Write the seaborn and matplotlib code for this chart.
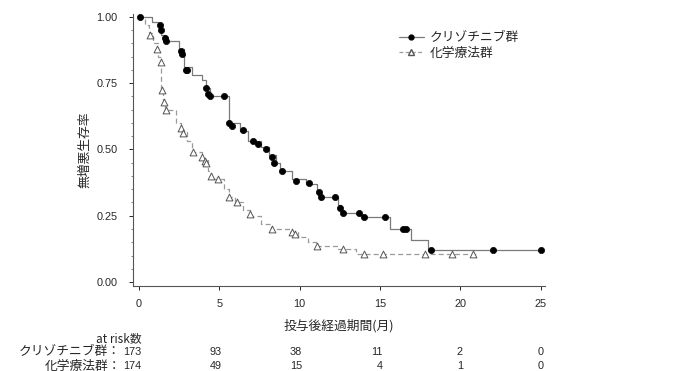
import matplotlib
matplotlib.use("Agg")
import matplotlib.pyplot as plt
import matplotlib.transforms as mtransforms
from matplotlib.lines import Line2D
import pandas as pd
import seaborn as sns

# Kaplan-Meier step curves (time in months, PFS rate)
criz_t = [0, 0.8, 1.2, 1.4, 1.6, 2.5, 2.8, 3.3, 3.9, 4.2, 4.4, 5.6, 6.3, 6.8, 7.6,
          8.1, 8.5, 8.8, 9.5, 10.4, 11.1, 11.2, 12.4, 12.6, 13.8, 15.6, 16.9, 18.0, 25.0]
criz_s = [1.00, 0.98, 0.96, 0.93, 0.91, 0.88, 0.81, 0.78, 0.76, 0.73, 0.70, 0.60, 0.57,
          0.53, 0.51, 0.48, 0.45, 0.42, 0.39, 0.37, 0.34, 0.32, 0.29, 0.26, 0.245, 0.20,
          0.16, 0.12, 0.12]
# censoring marks
criz_ct = [0.05, 1.3, 1.4, 1.6, 1.7, 2.6, 2.7, 2.9, 3.0, 4.2, 4.3, 4.4, 5.3, 5.6, 5.8,
           6.5, 7.1, 7.4, 7.9, 8.3, 8.4, 8.9, 9.8, 10.6, 11.2, 11.3, 12.2, 12.5, 12.7,
           13.7, 14.0, 15.3, 16.4, 16.6, 18.2, 22.0, 25.0]
criz_cs = [1.00, 0.97, 0.95, 0.92, 0.91, 0.87, 0.86, 0.80, 0.80, 0.73, 0.71, 0.70, 0.70,
           0.60, 0.59, 0.575, 0.53, 0.52, 0.50, 0.47, 0.45, 0.42, 0.38, 0.375, 0.34,
           0.32, 0.32, 0.28, 0.26, 0.26, 0.245, 0.245, 0.20, 0.20, 0.12, 0.12, 0.12]

chemo_t = [0, 0.4, 0.6, 0.9, 1.2, 1.4, 1.5, 1.6, 2.3, 2.6, 3.0, 3.3, 3.9, 4.3, 4.5, 5.3,
           5.6, 6.0, 6.5, 6.9, 7.6, 8.2, 9.4, 9.9, 10.5, 11.0, 12.3, 13.5, 21.0]
chemo_s = [1.00, 0.97, 0.94, 0.90, 0.85, 0.73, 0.68, 0.65, 0.60, 0.57, 0.53, 0.49, 0.46,
           0.42, 0.39, 0.35, 0.32, 0.30, 0.27, 0.25, 0.22, 0.20, 0.19, 0.17, 0.15, 0.135,
           0.125, 0.105, 0.105]
chemo_ct = [0.7, 1.1, 1.35, 1.45, 1.55, 1.7, 2.6, 2.75, 3.35, 3.9, 4.1, 4.2, 4.5, 4.9,
            5.6, 6.1, 6.9, 8.3, 9.5, 9.7, 11.1, 12.7, 14.0, 15.2, 17.8, 19.5, 20.8]
chemo_cs = [0.93, 0.88, 0.83, 0.725, 0.68, 0.65, 0.58, 0.56, 0.49, 0.47, 0.455, 0.45,
            0.40, 0.39, 0.32, 0.30, 0.255, 0.20, 0.19, 0.18, 0.135, 0.125, 0.105, 0.105,
            0.105, 0.105, 0.105]

groups = ["クリゾチニブ群", "化学療法群"]
risk_times = [0, 5, 10, 15, 20, 25]
risk_criz = [173, 93, 38, 11, 2, 0]
risk_chemo = [174, 49, 15, 4, 1, 0]

sns.set_theme(style="ticks")
plt.rcParams["font.family"] = ["Liberation Sans Narrow", "Liberation Sans", "Noto Sans CJK JP"]
txt = "#262626"
jp = ["Noto Sans CJK JP", "Liberation Sans"]
fs_num = 7.8
fs_jp = 9.2

fig = plt.figure(figsize=(6.81, 3.71), dpi=100)
ax = fig.add_axes([0.1953, 0.229, 0.6047, 0.733])

criz = pd.DataFrame({"t": criz_t, "s": criz_s})
chemo = pd.DataFrame({"t": chemo_t, "s": chemo_s})
sns.lineplot(data=criz, x="t", y="s", drawstyle="steps-post", color="#7a7a7a",
             lw=0.9, ax=ax, estimator=None)
sns.lineplot(data=chemo, x="t", y="s", drawstyle="steps-post", color="#9a9a9a",
             lw=0.9, ls=(0, (4, 2.5)), ax=ax, estimator=None)
sns.scatterplot(x=criz_ct, y=criz_cs, marker="o", s=20, color="black",
                edgecolor="black", linewidth=0.5, ax=ax, zorder=3)
sns.scatterplot(x=chemo_ct, y=chemo_cs, marker="^", s=24, facecolor="white",
                edgecolor="#555555", linewidth=0.7, ax=ax, zorder=3)

ax.set_xlim(-0.37, 25.25)
ax.set_ylim(-0.015, 1.01)
ax.set_xticks(risk_times)
ax.set_yticks([0, 0.25, 0.5, 0.75, 1.0])
ax.set_yticklabels(["0.00", "0.25", "0.50", "0.75", "1.00"])
ax.set_yticks([i * 0.05 for i in range(21)], minor=True)
ax.tick_params(axis="both", labelsize=fs_num, colors=txt, length=3, width=0.7)
ax.tick_params(axis="y", which="minor", length=1.5, width=0.5, colors="#555555")
ax.tick_params(axis="x", pad=6)
ax.tick_params(axis="y", pad=8)
for sp in ["top", "right"]:
    ax.spines[sp].set_visible(False)
for sp in ["left", "bottom"]:
    ax.spines[sp].set_color("#555555")
    ax.spines[sp].set_linewidth(0.8)

ax.set_xlabel("")
ax.set_ylabel("無増悪生存率", fontsize=fs_jp, color=txt, labelpad=4, family=jp)
ax.text(0.5, -0.147, "投与後経過期間(月)", transform=ax.transAxes, ha="center",
        va="center", fontsize=fs_jp, color=txt, family=jp)

handles = [
    Line2D([], [], color="#7a7a7a", lw=0.9, marker="o", markersize=3.5,
           markerfacecolor="black", markeredgecolor="black"),
    Line2D([], [], color="#9a9a9a", lw=0.9, ls=(0, (3, 2)), marker="^", markersize=4,
           markerfacecolor="white", markeredgecolor="#555555"),
]
leg = ax.legend(handles, groups, loc="upper left", bbox_to_anchor=(0.617, 0.98),
                frameon=False, fontsize=fs_jp, handlelength=2.0, handletextpad=0.4,
                labelspacing=0.2, labelcolor=txt)
for t in leg.get_texts():
    t.set_family(jp)

# at-risk table
trans = mtransforms.blended_transform_factory(ax.transData, ax.transAxes)
ax.text(0.15, -0.195, "at risk数", transform=trans, ha="right", va="center",
        fontsize=8.5, color=txt, family=["Liberation Sans Narrow", "Noto Sans CJK JP"])
for x, a, b in zip(risk_times, risk_criz, risk_chemo):
    ax.text(x + 0.15, -0.243, str(a), transform=trans, ha="right", va="center",
            fontsize=fs_num, color=txt)
    ax.text(x + 0.15, -0.294, str(b), transform=trans, ha="right", va="center",
            fontsize=fs_num, color=txt)
fig.text(121 / 681, 1 - 352 / 371, groups[0] + "：", ha="right", va="center",
         fontsize=fs_jp, color=txt, family=jp)
fig.text(121 / 681, 1 - 366 / 371, groups[1] + "：", ha="right", va="center",
         fontsize=fs_jp, color=txt, family=jp)

fig.savefig("out.png", dpi=100)
